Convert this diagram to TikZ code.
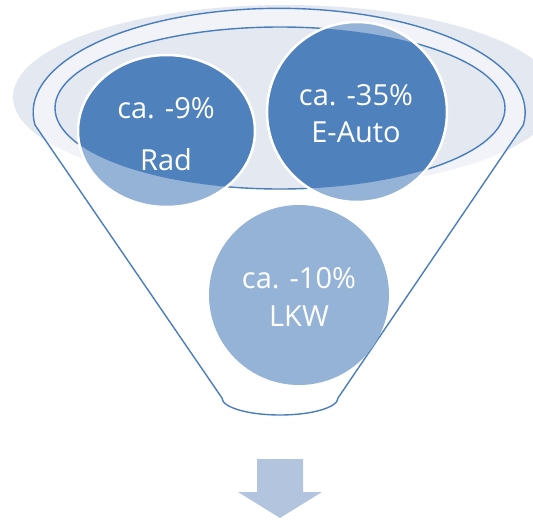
\documentclass[tikz,border=0pt]{standalone}
\usepackage{fontspec}
\setmainfont{Open Sans}
\usetikzlibrary{positioning}
\definecolor{funnelline}{HTML}{4A7EBB}
\definecolor{rimfill}{HTML}{E3E8F1}
\definecolor{darkball}{HTML}{4F81BD}
\definecolor{lightball}{HTML}{95B3D7}
\definecolor{arrowfill}{HTML}{B3C4DF}

\begin{document}
\begin{tikzpicture}[x=1pt, y=-1pt,
    rim/.style={draw=funnelline, line width=1.4pt},
    ballborder/.style={draw=white, line width=2.5pt},
    balltext/.style={text=white, anchor=base, inner sep=0pt, font=\fontsize{29}{35}\selectfont}]
    \useasboundingbox (0,0) rectangle (533,520);

    % opening of the funnel
    \fill[rimfill] (285,97) ellipse [x radius=272, y radius=92];
    \fill[white, fill opacity=0.5, even odd rule]
        (35,125) arc [start angle=173, end angle=367, x radius=246, y radius=104]
        -- (338,398) arc [start angle=0, end angle=180, x radius=58, y radius=17] -- cycle
        (280,108) ellipse [x radius=225, y radius=81];
    \draw[rim]
        (35,125) arc [start angle=173, end angle=367, x radius=246, y radius=104]
        -- (338,398) arc [start angle=0, end angle=180, x radius=58, y radius=17] -- cycle;
    \draw[rim] (280,108) ellipse [x radius=225, y radius=81];

    % balls
    \fill[lightball] (166.5,131) ellipse [x radius=88.5, y radius=76];
    \fill[lightball] (357,112) circle [radius=90];
    \fill[lightball] (299,295) circle [radius=90];
    \begin{scope}
        \clip (280,108) ellipse [x radius=225, y radius=81];
        \fill[darkball] (166.5,131) ellipse [x radius=88.5, y radius=76];
        \fill[darkball] (357,112) circle [radius=90];
    \end{scope}
    \draw[ballborder] (166.5,131) ellipse [x radius=88.5, y radius=76];
    \draw[ballborder] (357,112) circle [radius=90];

    \node[balltext] (radval) at (166,118) {ca. -9\%};
    \node[balltext] (radname) at (166,170) {Rad};
    \node[balltext] (autoval) at (356,105) {ca. -35\%};
    \node[balltext] (autoname) at (356,142) {E-Auto};
    \node[balltext] (lkwval) at (299,288) {ca. -10\%};
    \node[balltext] (lkwname) at (299,326) {LKW};

    % arrow below
    \fill[arrowfill] (257,459) -- (303,459) -- (303,492) -- (322,492)
        -- (280,518) -- (238,492) -- (257,492) -- cycle;
\end{tikzpicture}
\end{document}
